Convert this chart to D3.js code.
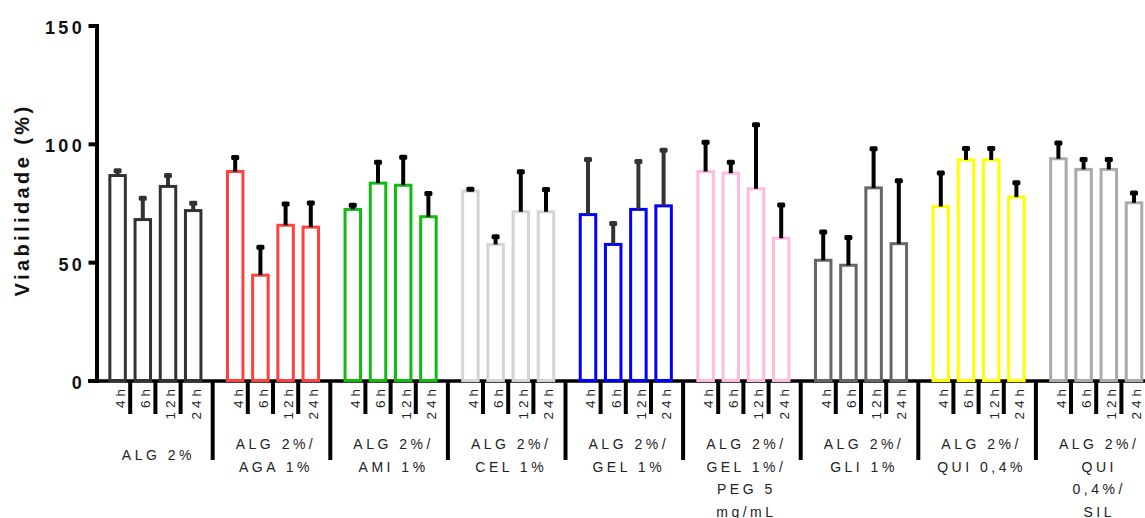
<!DOCTYPE html>
<html>
<head>
<meta charset="utf-8">
<script src="https://cdn.jsdelivr.net/npm/d3@7"></script>
<style>
  body { margin: 0; background: #fff; }
  svg { display: block; font-family: "Liberation Sans", Arial, sans-serif; }
</style>
</head>
<body>
<svg id="chart"></svg>
<script>
// group labels, one entry per line
const groupLabels = [
  ["ALG 2%"],
  ["ALG 2%/", "AGA 1%"],
  ["ALG 2%/", "AMI 1%"],
  ["ALG 2%/", "CEL 1%"],
  ["ALG 2%/", "GEL 1%"],
  ["ALG 2%/", "GEL 1%/", "PEG 5", "mg/mL"],
  ["ALG 2%/", "GLI 1%"],
  ["ALG 2%/", "QUI 0,4%"],
  ["ALG 2%/", "QUI", "0,4%/", "SIL"]
];
const times = ["4h", "6h", "12h", "24h"];
const means = [
  [86.6, 68.0, 82.0, 71.8],
  [88.3, 44.5, 65.6, 64.8],
  [72.3, 83.4, 82.5, 69.2],
  [80.0, 57.5, 71.3, 71.3],
  [70.1, 57.5, 72.3, 73.8],
  [88.3, 87.6, 81.0, 60.1],
  [50.8, 48.7, 81.4, 57.8],
  [73.5, 93.2, 93.2, 77.5],
  [93.7, 89.2, 89.2, 75.1]
];
const sds = [
  [2.0, 9.0, 4.6, 3.1],
  [5.9, 11.8, 9.0, 10.2],
  [1.8, 8.8, 11.8, 9.8],
  [0.8, 3.2, 16.9, 9.4],
  [23.3, 8.8, 20.2, 23.5],
  [12.4, 4.6, 27.1, 14.1],
  [11.9, 11.7, 16.5, 26.6],
  [14.2, 4.8, 4.8, 6.1],
  [6.6, 4.2, 4.2, 4.1]
];
const barColors = ["#333333", "#ff4040", "#11bb11", "#d4d4d4", "#0000ff", "#ffbbdd", "#666666", "#ffff00", "#aaaaaa"];
const errColors = ["#333333", "#000000", "#000000", "#000000", "#333333", "#000000", "#000000", "#000000", "#000000"];
const yTicks = [0, 50, 100, 150];

const width = 1145, height = 518;

const svg = d3.select('#chart')
    .attr('width', width)
    .attr('height', height);

const y = d3.scaleLinear()
    .domain([0, 150])
    .range([380.5, 25.5]);

const x0 = d3.scaleBand()
    .domain(d3.range(groupLabels.length))
    .range([105, 105 + 117.6 * groupLabels.length]);

const x1 = d3.scaleBand()
    .domain(times)
    .range([0, 100.8])
    .paddingInner(0.385)
    .paddingOuter(0.1925);

const bw = x1.bandwidth();

let rows = [];
means.forEach((g, gi) => g.forEach((m, ti) => {
  rows.push({g: gi, t: times[ti], mean: m, sd: sds[gi][ti]});
}));

// x axis line
svg.append('line')
    .attr('x1', 88).attr('x2', width)
    .attr('y1', 381).attr('y2', 381)
    .attr('stroke', '#000')
    .attr('stroke-width', 3.5);

// bars
svg.selectAll('.bar')
    .data(rows)
  .join('rect')
    .attr('class', 'bar')
    .attr('x', d => x0(d.g) + x1(d.t))
    .attr('y', d => y(d.mean))
    .attr('width', bw)
    .attr('height', d => y(0) - y(d.mean))
    .attr('fill', '#fff')
    .attr('stroke', d => barColors[d.g])
    .attr('stroke-width', 3);

// error bars (upper only)
svg.selectAll('.err')
    .data(rows)
  .join('line')
    .attr('class', 'err')
    .attr('x1', d => x0(d.g) + x1(d.t) + bw / 2)
    .attr('x2', d => x0(d.g) + x1(d.t) + bw / 2)
    .attr('y1', d => y(d.mean))
    .attr('y2', d => y(d.mean + d.sd))
    .attr('stroke', d => errColors[d.g])
    .attr('stroke-width', 4);

svg.selectAll('.cap')
    .data(rows)
  .join('rect')
    .attr('class', 'cap')
    .attr('x', d => x0(d.g) + x1(d.t) + bw / 2 - 4)
    .attr('y', d => y(d.mean + d.sd) - 2.5)
    .attr('width', 8)
    .attr('height', 5)
    .attr('rx', 1.5)
    .attr('fill', d => errColors[d.g]);

// y axis
const yAxis = d3.axisLeft(y)
    .tickValues(yTicks)
    .tickSize(8)
    .tickSizeOuter(0)
    .tickPadding(3.5);

const yAxisG = svg.append('g')
    .attr('class', 'axis y-axis')
    .attr('transform', 'translate(96.5,0)')
    .call(yAxis);

yAxisG.select('.domain')
    .attr('stroke', '#000')
    .attr('stroke-width', 4)
    .attr('stroke-linecap', 'square');
yAxisG.selectAll('.tick line')
    .attr('stroke', '#000')
    .attr('stroke-width', 4);
yAxisG.selectAll('.tick text')
    .attr('dy', '0.45em')
    .attr('fill', '#111')
    .style('font-family', '"Liberation Sans", Arial, sans-serif')
    .style('font-size', '18px')
    .style('font-weight', 'bold')
    .style('letter-spacing', '3.3px');

// y title
svg.append('text')
    .attr('transform', 'translate(29,200) rotate(-90)')
    .attr('text-anchor', 'middle')
    .attr('fill', '#111')
    .style('font-size', '20px')
    .style('font-weight', 'bold')
    .style('letter-spacing', '3.4px')
    .text('Viabilidade (%)');

// nested x axis: time ticks and labels
const minorTicks = [];
groupLabels.forEach((l, gi) => {
  for (let i = 1; i < times.length; i++) {
    minorTicks.push(x0(gi) + x1(times[i]) - (x1.step() - bw) / 2);
  }
});

svg.selectAll('.minor')
    .data(minorTicks)
  .join('line')
    .attr('class', 'minor')
    .attr('x1', d => d).attr('x2', d => d)
    .attr('y1', 380).attr('y2', 414)
    .attr('stroke', '#000')
    .attr('stroke-width', 4);

const separators = d3.range(1, groupLabels.length + 1).map(gi =>
  (x0(gi - 1) + x1(times[times.length - 1]) + bw + x0(gi - 1) + 117.6 + x1(times[0])) / 2 - 1.5);

svg.selectAll('.sep')
    .data(separators)
  .join('line')
    .attr('class', 'sep')
    .attr('x1', d => d).attr('x2', d => d)
    .attr('y1', 380).attr('y2', 460)
    .attr('stroke', '#000')
    .attr('stroke-width', 4);

svg.selectAll('.time-label')
    .data(rows)
  .join('text')
    .attr('class', 'time-label')
    .attr('transform', d => `translate(${x0(d.g) + x1(d.t) + bw / 2 + 2.5},385) rotate(-90)`)
    .attr('dy', '0.36em')
    .attr('text-anchor', 'end')
    .attr('fill', '#222')
    .style('font-size', '13.5px')
    .style('letter-spacing', '4px')
    .text(d => d.t);

// group labels
const gl = svg.selectAll('.group-label')
    .data(groupLabels)
  .join('text')
    .attr('class', 'group-label')
    .attr('text-anchor', 'middle')
    .attr('fill', '#222')
    .style('font-size', '14px')
    .style('letter-spacing', '3.5px');

gl.each(function(lines, gi) {
  const cx = x0(gi) + x1(times[0]) + (x1(times[times.length - 1]) + bw - x1(times[0])) / 2 + 3;
  const y0 = lines.length === 1 ? 460 : 449;
  d3.select(this).selectAll('tspan')
      .data(lines)
    .join('tspan')
      .attr('x', cx)
      .attr('y', (d, i) => y0 + i * 22.5)
      .text(d => d);
});
</script>
</body>
</html>
